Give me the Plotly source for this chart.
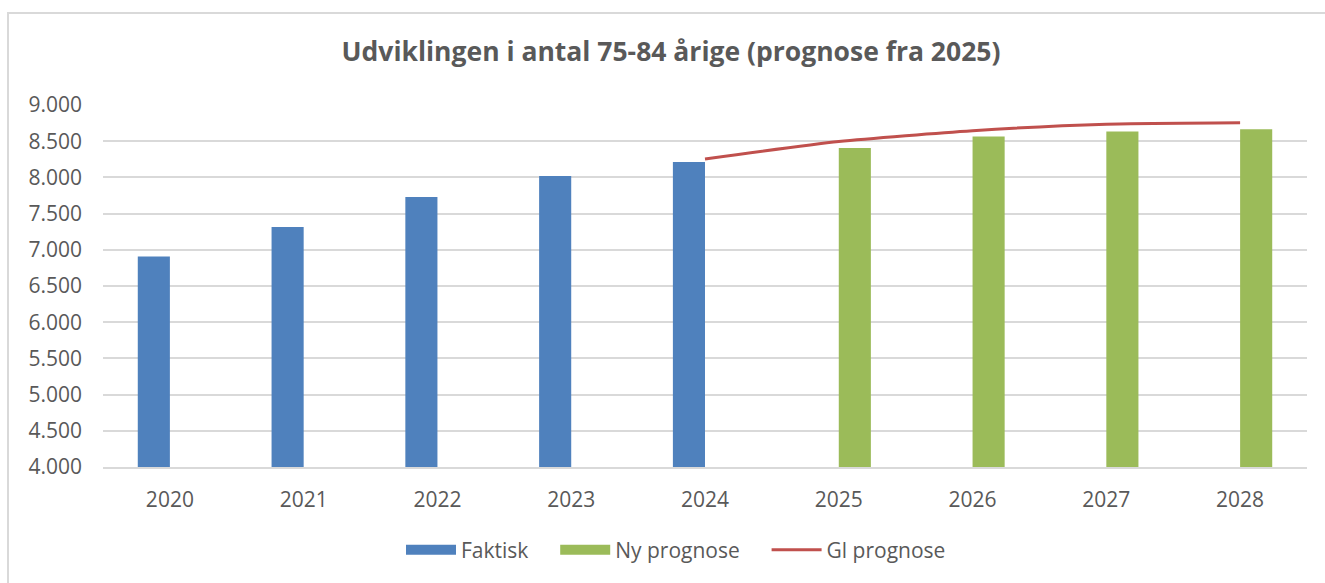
import plotly.graph_objects as go

years = ["2020", "2021", "2022", "2023", "2024", "2025", "2026", "2027", "2028"]
faktisk = [6907, 7316, 7731, 8018, 8213, None, None, None, None]
ny_prognose = [None, None, None, None, None, 8406, 8565, 8634, 8664]
gl_years = ["2024", "2025", "2026", "2027", "2028"]
gl_prognose = [8254, 8495, 8645, 8735, 8755]

FONT = "Open Sans, sans-serif"
GREY = "#595959"
BLUE, GREEN, RED = "#4f81bd", "#9bbb59", "#c0504d"
PAD = "\u00a0" * 4

fig = go.Figure()
fig.add_trace(go.Bar(name="Faktisk", x=years, y=faktisk, marker_color=BLUE,
                     marker_line_width=0, showlegend=False))
fig.add_trace(go.Bar(name="Ny prognose", x=years, y=ny_prognose, marker_color=GREEN,
                     marker_line_width=0, showlegend=False))
fig.add_trace(go.Scatter(name="Gl prognose", x=gl_years, y=gl_prognose, mode="lines",
                         line=dict(color=RED, width=3, shape="spline", smoothing=0.6),
                         showlegend=False))
# legend entries (wide swatches like the original)
for nm, col, w in [("Faktisk" + PAD, BLUE, 10), ("Ny prognose" + PAD, GREEN, 10),
                   ("Gl prognose", RED, 3)]:
    fig.add_trace(go.Scatter(name=nm, x=[None], y=[None], mode="lines",
                             line=dict(color=col, width=w), showlegend=True))

W, H = 1325, 583
L, R, T, B = 103, 18, 105, 116
pw, ph = W - L - R, H - T - B

def px_x(p):
    return (p - L) / pw

def px_y(p):
    return (H - B - p) / ph

fig.update_layout(
    width=W, height=H,
    margin=dict(l=L, r=R, t=T, b=B),
    paper_bgcolor="white", plot_bgcolor="white",
    separators=",.",
    barmode="group", bargap=0.52, bargroupgap=0,
    font=dict(family=FONT, color=GREY, size=21),
    title=dict(text="<b>Udviklingen i antal 75-84 årige (prognose fra 2025)</b>",
               x=671 / W, xanchor="center", y=1 - 52 / H, yanchor="middle",
               font=dict(family=FONT, size=26.5, color=GREY)),
    xaxis=dict(type="category", showgrid=False, showline=True, linecolor="#d9d9d9",
               linewidth=2, ticks="", ticklabelstandoff=13,
               tickfont=dict(family=FONT, size=21, color=GREY)),
    yaxis=dict(range=[4000, 9000], dtick=500, tickformat=",d", showgrid=True,
               gridcolor="#d9d9d9", gridwidth=2, zeroline=False, showline=False,
               ticks="", ticklabelstandoff=20,
               tickfont=dict(family=FONT, size=21, color=GREY)),
    legend=dict(orientation="h", x=px_x(676), xanchor="center", y=px_y(550),
                yanchor="middle", font=dict(family=FONT, size=21, color=GREY),
                itemwidth=50, traceorder="normal"),
    showlegend=True,
    shapes=[dict(type="rect", xref="paper", yref="paper",
                 x0=px_x(8), x1=px_x(1340), y0=px_y(600), y1=px_y(13),
                 line=dict(color="#d9d9d9", width=2), fillcolor="rgba(0,0,0,0)",
                 layer="below")],
)

fig.write_html("out.html", config={"displayModeBar": False},
               post_script="document.body.style.margin='0';")
